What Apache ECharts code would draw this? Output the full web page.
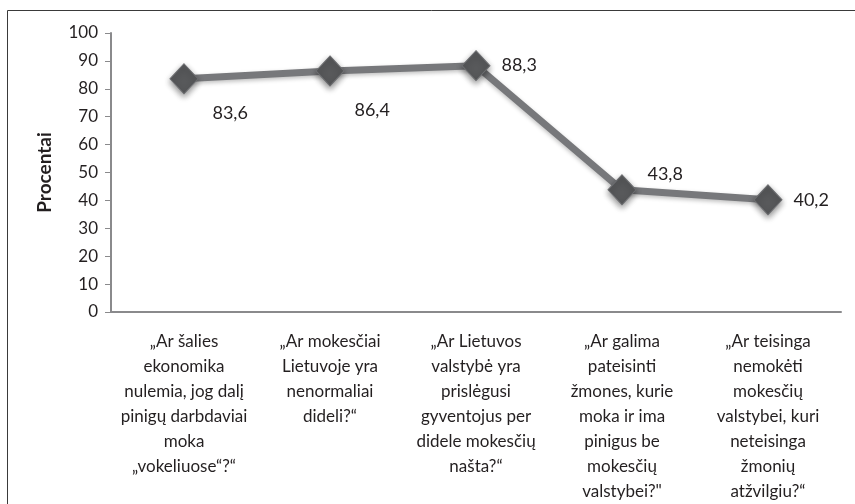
<!DOCTYPE html>
<html>
<head>
<meta charset="utf-8">
<script src="https://cdn.jsdelivr.net/npm/echarts@6/dist/echarts.min.js"></script>
<style>
  html, body { margin: 0; padding: 0; background: #fff; }
  #chart { width: 855px; height: 504px; }
</style>
</head>
<body>
<div id="chart"></div>
<script>
"use strict";

var categories = [
	"„Ar šalies\nekonomika\nnulemia, jog dalį\npinigų darbdaviai\nmoka\n„vokeliuose“?“",
	"„Ar mokesčiai\nLietuvoje yra\nnenormaliai\ndideli?“",
	"„Ar Lietuvos\nvalstybė yra\nprislėgusi\ngyventojus per\ndidele mokesčių\nnašta?“",
	"„Ar galima\npateisinti\nžmones, kurie\nmoka ir ima\npinigus be\nmokesčių\nvalstybei?\"",
	"„Ar teisinga\nnemokėti\nmokesčių\nvalstybei, kuri\nneteisinga\nžmonių\natžvilgiu?“"
];
var values = [83.6, 86.4, 88.3, 43.8, 40.2];
var yTicks = { min: 0, max: 100, interval: 10 };

var textColor = '#231f20';
var fontFamily = 'Lato, "Open Sans", sans-serif';

// where each value label sits next to its marker
var labelOffsets = [[3, 34], [-1, 39], [0, 0], [0, -16], [0, 0]];

function buildData() {
	return values.map(function(v, i) {
		return {
			value : v,
			label : {
				position : 'right',
				distance : 11,
				offset : labelOffsets[i]
			}
		};
	});
}

function surveyChart() {
	var chart = echarts.init(document.getElementById('chart'), null, { renderer : 'canvas' });

	chart.setOption({
		animation : false,
		textStyle : { fontFamily : fontFamily },
		graphic : [ {
			type : 'rect',
			shape : { x : 7.5, y : 10.5, width : 900, height : 600 },
			style : { fill : 'none', stroke : '#3a3a3a', lineWidth : 1 },
			silent : true
		} ],
		grid : {
			left : 111,
			right : 14,
			top : 33,
			bottom : 190
		},
		xAxis : {
			type : 'category',
			data : categories,
			boundaryGap : true,
			axisLine : { lineStyle : { color : '#8a8a8c', width : 2 } },
			axisTick : { show : false },
			axisLabel : {
				interval : 0,
				margin : 17,
				color : textColor,
				fontSize : 17,
				lineHeight : 25,
				align : 'center',
				fontFamily : fontFamily
			}
		},
		yAxis : {
			type : 'value',
			min : yTicks.min,
			max : yTicks.max,
			interval : yTicks.interval,
			name : 'Procentai',
			nameLocation : 'middle',
			nameGap : 57,
			nameRotate : 90,
			nameTextStyle : {
				color : textColor,
				fontSize : 19,
				fontWeight : 'bold',
				fontFamily : fontFamily
			},
			axisLine : { show : true, lineStyle : { color : '#8a8a8c', width : 2 } },
			axisTick : { show : true, length : 6, lineStyle : { color : '#8a8a8c' } },
			splitLine : { show : false },
			axisLabel : {
				color : textColor,
				fontSize : 17,
				margin : 13,
				fontFamily : fontFamily
			}
		},
		series : [ {
			type : 'line',
			data : buildData(),
			symbol : 'diamond',
			symbolSize : [28, 30],
			lineStyle : {
				color : '#77787b',
				width : 7,
				shadowColor : 'rgba(0,0,0,0.25)',
				shadowBlur : 4,
				shadowOffsetY : 2
			},
			itemStyle : {
				color : '#58595b',
				borderColor : '#6d6e71',
				borderWidth : 1,
				shadowColor : 'rgba(0,0,0,0.45)',
				shadowBlur : 6,
				shadowOffsetY : 3
			},
			label : {
				show : true,
				color : textColor,
				fontSize : 18,
				fontFamily : fontFamily,
				formatter : function(p) {
					return String(p.value).replace('.', ',');
				}
			},
			z : 3
		} ]
	});
}

surveyChart();
</script>
</body>
</html>
